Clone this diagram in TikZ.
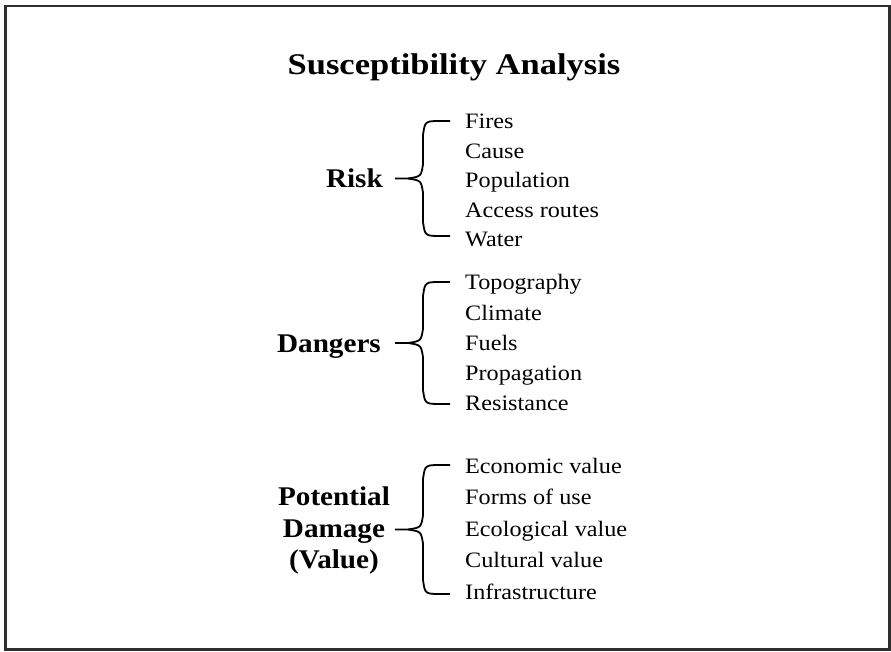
\documentclass[tikz,border=0pt]{standalone}
\usepackage{fontspec}
\setmainfont{Liberation Serif}
\usepackage{graphicx}
\definecolor{framegray}{HTML}{2E2E2E}
\newcommand{\wideT}[1]{\scalebox{1.15}[1]{#1}}
\newcommand{\wideL}[1]{\scalebox{1.08}[1]{#1}}
\newcommand{\wideE}[1]{\scalebox{1.1}[1]{#1}}
% brace: top y, middle y, bottom y
\newcommand{\drawbrace}[3]{%
  \draw[bracestyle] (450,#1) -- (441,#1) .. controls (425,#1) .. (423,#1+14)
    -- (423,#2-14) .. controls (421,#2-2) .. (408,#2) -- (395,#2);
  \draw[bracestyle] (408,#2) .. controls (421,#2+2) .. (423,#2+14)
    -- (423,#3-14) .. controls (425,#3) .. (441,#3) -- (450,#3);
}
\begin{document}
\begin{tikzpicture}[x=1pt,y=-1pt,
  titlestyle/.style={font=\fontsize{30}{36}\selectfont\bfseries, inner sep=0pt, anchor=base},
  grouplabel/.style={font=\fontsize{27}{32}\selectfont\bfseries, inner sep=0pt},
  entry/.style={font=\fontsize{22}{26}\selectfont, inner sep=0pt, anchor=base west},
  bracestyle/.style={line width=1.8pt, line join=round, line cap=butt}
]
\useasboundingbox (0,0) rectangle (891,652);
\fill[white] (0,0) rectangle (891,652);
\draw[framegray, line width=2.2pt] (5.5,5.8) rectangle (889.5,649.4);

\node[titlestyle] (title) at (454,75) {\wideT{Susceptibility Analysis}};

% Risk
\node[grouplabel, anchor=base east] (risk) at (383,188) {\wideL{Risk}};
\node[entry] (r1) at (465,129) {\wideE{Fires}};
\node[entry] (r2) at (465,158.5) {\wideE{Cause}};
\node[entry] (r3) at (465,188) {\wideE{Population}};
\node[entry] (r4) at (465,217.5) {\wideE{Access routes}};
\node[entry] (r5) at (465,247) {\wideE{Water}};
\drawbrace{121}{178.5}{236}

% Dangers
\node[grouplabel, anchor=base east] (dangers) at (381,352) {\wideL{Dangers}};
\node[entry] (d1) at (465,290) {\wideE{Topography}};
\node[entry] (d2) at (465,320) {\wideE{Climate}};
\node[entry] (d3) at (465,350) {\wideE{Fuels}};
\node[entry] (d4) at (465,380) {\wideE{Propagation}};
\node[entry] (d5) at (465,410) {\wideE{Resistance}};
\drawbrace{282}{343}{404}

% Potential Damage
\node[grouplabel, anchor=base] (pot) at (334,505) {\wideL{Potential}};
\node[grouplabel, anchor=base] (dam) at (334,537) {\wideL{Damage}};
\node[grouplabel, anchor=base] (val) at (334,568) {\wideL{(Value)}};
\node[entry] (p1) at (465,473) {\wideE{Economic value}};
\node[entry] (p2) at (465,504.5) {\wideE{Forms of use}};
\node[entry] (p3) at (465,536) {\wideE{Ecological value}};
\node[entry] (p4) at (465,567.5) {\wideE{Cultural value}};
\node[entry] (p5) at (465,599) {\wideE{Infrastructure}};
\drawbrace{465}{529.5}{594}
\end{tikzpicture}
\end{document}
